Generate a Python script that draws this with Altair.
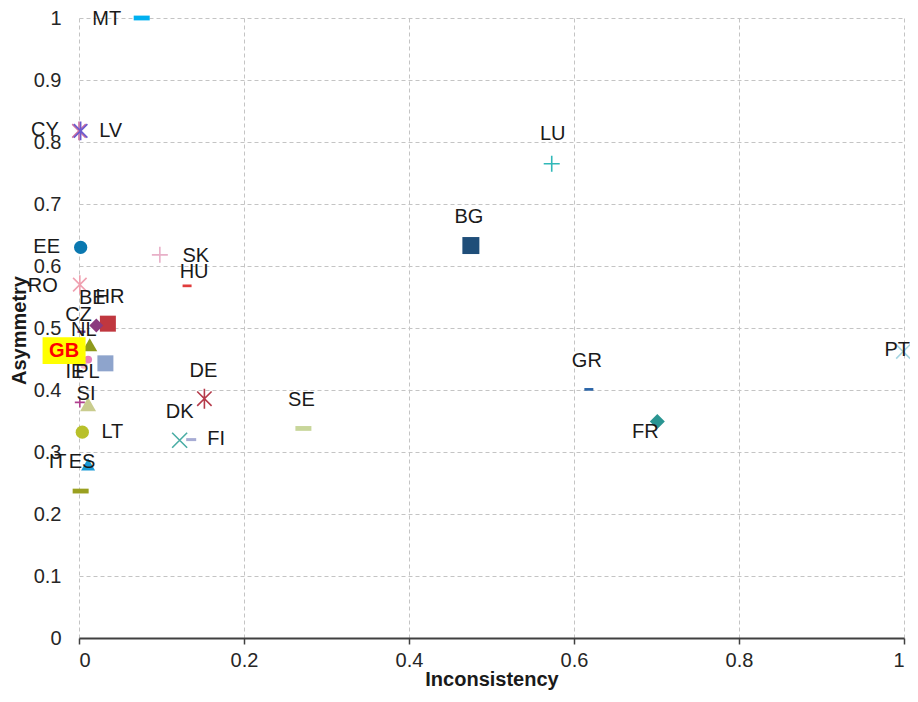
import altair as alt
import pandas as pd

# ---- data ----
countries = ["MT", "CY", "LV", "LU", "BG", "EE", "SK", "HU", "RO", "HR", "BE", "CZ",
             "NL", "GB", "IE", "PL", "SI", "AT", "LT", "ES", "IT", "DE", "DK", "FI",
             "SE", "GR", "FR", "PT"]
inconsistency = [0.076, 0.0, 0.002, 0.573, 0.475, 0.002, 0.098, 0.131, 0.001, 0.035, 0.021, 0.003,
                 0.013, 0.011, 0.006, 0.032, 0.011, 0.001, 0.004, 0.011, 0.002, 0.152, 0.122, 0.136,
                 0.272, 0.618, 0.701, 0.999]
asymmetry = [1.0, 0.818, 0.818, 0.765, 0.633, 0.630, 0.618, 0.568, 0.570, 0.507, 0.504, 0.494,
             0.473, 0.449, 0.440, 0.443, 0.377, 0.380, 0.332, 0.280, 0.237, 0.386, 0.319, 0.320,
             0.338, 0.401, 0.349, 0.462]
x_ticks = [0, 0.2, 0.4, 0.6, 0.8, 1]
y_ticks = [0, 0.1, 0.2, 0.3, 0.4, 0.5, 0.6, 0.7, 0.8, 0.9, 1]
highlight = "GB"

# ---- style (marker shape, colour, marker width px, label offset px) ----
style = {
    "MT": ("dash", "#00b0f0", 16, -35, 1),
    "CY": ("asterisk", "#d070a0", 15, -34, -1),
    "LV": ("asterisk", "#6a5acd", 15, 30, 0),
    "LU": ("plus", "#30b8b8", 16, 1, -30),
    "BG": ("square", "#1f4e79", 17, -2, -29),
    "EE": ("circle", "#0a78b0", 15, -34, 0),
    "SK": ("plus", "#e8b0c8", 16, 36, 1),
    "HU": ("dash", "#e03c3c", 9, 7, -14),
    "RO": ("asterisk", "#f0a0b0", 15, -37, 1),
    "HR": ("square", "#c0373f", 16, 2, -27),
    "BE": ("diamond", "#8b3a7e", 14, -4, -28),
    "CZ": ("dash", "#7f3f98", 8, -3, -17),
    "NL": ("triangle", "#8e9a1c", 15, -6, -15),
    "GB": ("circle", "#e67fb8", 9, -24, -9),
    "IE": ("circle", "#f4b6c8", 8, -9, 7),
    "PL": ("square", "#8ea4cc", 16, -18, 9),
    "SI": ("triangle", "#c9cc8e", 16, -2, -10),
    "AT": ("plus", "#b0408f", 10, 0, 0),
    "LT": ("circle", "#b8c02a", 15, 30, 0),
    "ES": ("triangle", "#1a9ad6", 14, -6, -2),
    "IT": ("dash", "#9aa020", 16, -23, -29),
    "DE": ("asterisk", "#b53a4a", 16, -1, -28),
    "DK": ("x", "#4aada5", 15, 0, -28),
    "FI": ("dash", "#a7acd4", 10, 25, -1),
    "SE": ("dash", "#c8d69a", 16, -2, -28),
    "GR": ("dash", "#2b65a8", 9, -2, -28),
    "FR": ("diamond", "#2a9592", 15, -12, 10),
    "PT": ("x", "#a6d5e2", 14, -6, -2),
}
unlabelled = ["AT"]

shape_names = ["dash", "square", "circle", "diamond", "triangle", "plus", "x", "asterisk"]
shape_paths = ["M-1,-0.3H1V0.3H-1Z", "square", "circle", "diamond", "triangle-up",
               "M-1,0H1M0,-1V1", "M-1,-1L1,1M-1,1L1,-1",
               "M-0.9,-0.9L0.9,0.9M-0.9,0.9L0.9,-0.9M0,-1.25V1.25"]
stroked_shapes = ["plus", "x", "asterisk"]

df = pd.DataFrame({"country": countries, "inc": inconsistency, "asym": asymmetry})
df["shape"] = [style[c][0] for c in countries]
df["msize"] = [style[c][2] ** 2 if style[c][0] != "circle" else 3.1416 * (style[c][2] / 2) ** 2
               for c in countries]
df["stroked"] = [style[c][0] in stroked_shapes for c in countries]

FONT = "Liberation Sans"

x_enc = alt.X("inc:Q", scale=alt.Scale(domain=[0, 1], nice=False),
              axis=alt.Axis(values=x_ticks, format=".1~f", title="Inconsistency",
                            grid=True, gridDash=[4, 3], gridColor="#c4c4c4",
                            domain=True, domainColor="#404040", domainWidth=2,
                            ticks=True, tickColor="#404040", tickSize=6, tickWidth=1.5,
                            labelPadding=6, labelFontSize=20, labelFont=FONT,
                            labelColor="#262626", titleFont=FONT, titleFontSize=20,
                            titleFontWeight="bold", titleColor="#1a1a1a",
                            titleY=47, titleBaseline="alphabetic"))
y_enc = alt.Y("asym:Q", scale=alt.Scale(domain=[0, 1], nice=False),
              axis=alt.Axis(values=y_ticks, format=".1~f", title="Asymmetry",
                            grid=True, gridDash=[4, 3], gridColor="#c4c4c4",
                            domain=False, ticks=False, labelPadding=18,
                            labelFontSize=20, labelFont=FONT, labelColor="#262626",
                            titleFont=FONT, titleFontSize=20, titleFontWeight="bold",
                            titleColor="#1a1a1a", titleAngle=-90, titleX=-54, titleY=312,
                            titleBaseline="alphabetic", titleAlign="center"))

color_enc = alt.Color("country:N", scale=alt.Scale(domain=countries,
                                                   range=[style[c][1] for c in countries]),
                      legend=None)
shape_enc = alt.Shape("shape:N", scale=alt.Scale(domain=shape_names, range=shape_paths),
                      legend=None)
size_enc = alt.Size("msize:Q", scale=None)

base = alt.Chart(df)

filled = base.transform_filter("!datum.stroked").mark_point(
    filled=True, opacity=1, strokeWidth=0).encode(
    x=x_enc, y=y_enc, color=color_enc, shape=shape_enc, size=size_enc)

stroked = base.transform_filter("datum.stroked").mark_point(
    filled=False, opacity=1, strokeWidth=1.6).encode(
    x=x_enc, y=y_enc, color=color_enc, shape=shape_enc, size=size_enc)

layers = [filled, stroked]

# one text layer per country so that each label gets its own pixel offset
for c in countries:
    if c in unlabelled or c == highlight:
        continue
    dx, dy = style[c][3], style[c][4]
    layers.append(
        base.transform_filter(alt.datum.country == c).mark_text(
            font=FONT, fontSize=20, color="#1a1a1a", align="center", baseline="middle",
            dx=dx, dy=dy).encode(x="inc:Q", y="asym:Q", text="country:N"))

hdx, hdy = style[highlight][3], style[highlight][4]
hl = base.transform_filter(alt.datum.country == highlight)
layers.append(hl.mark_point(shape="M-1,-0.62H1V0.62H-1Z", filled=True, color="#ffff00",
                            opacity=1, size=43 * 43, strokeWidth=0,
                            xOffset=hdx, yOffset=hdy).encode(x="inc:Q", y="asym:Q"))
layers.append(hl.mark_text(font=FONT, fontSize=20, fontWeight="bold", color="#ff0000",
                           align="center", baseline="middle", dx=hdx, dy=hdy).encode(
    x="inc:Q", y="asym:Q", text="country:N"))

chart = alt.layer(*layers).properties(
    width=825, height=620,
    autosize=alt.AutoSizeParams(type="none"),
    padding={"left": 71, "top": 10, "right": 6, "bottom": 52},
).configure_view(stroke=None)

chart.save("out.html", embed_options={"renderer": "svg", "actions": False})
